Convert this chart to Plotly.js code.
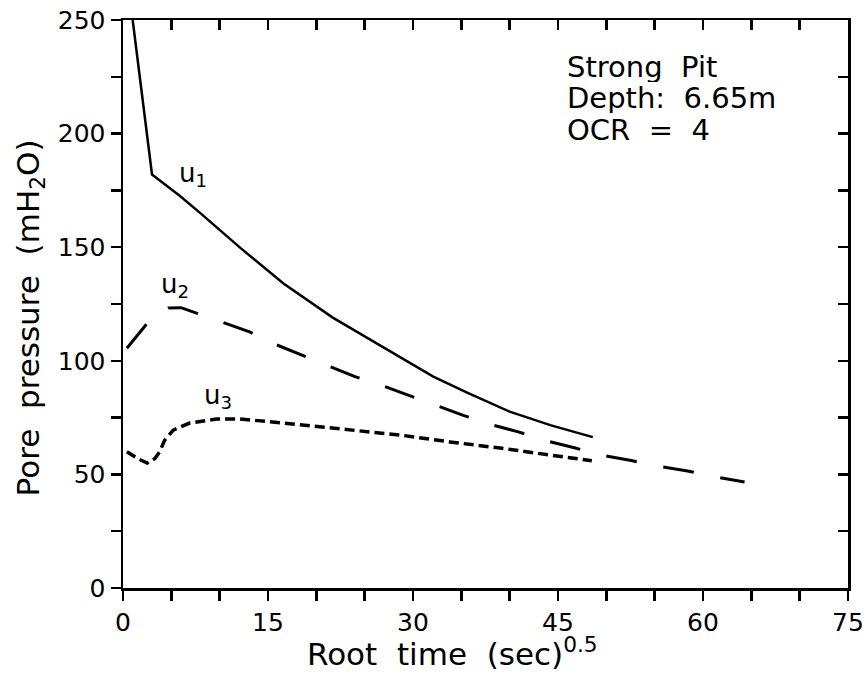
<!DOCTYPE html>
<html>
<head>
<meta charset="utf-8">
<script src="https://cdn.plot.ly/plotly-3.0.1.min.js"></script>
<style>
  html, body { margin: 0; padding: 0; background: #fff; }
  #chart { width: 868px; height: 680px; }
</style>
</head>
<body>
<div id="chart"></div>
<script>
// Piezocone dissipation record: pore pressures u1, u2, u3 against root time
const u1Time = [1.0, 3.0, 3.6, 5.9, 8.0, 12.2, 16.6, 21.7, 26.9, 28.7, 32.1, 35.6, 40.0, 44.2, 48.6];
const u1Pressure = [250, 182, 180, 172.5, 165, 149.5, 134, 119, 106, 101.6, 93, 86, 77.6, 71.7, 66.4];

const u2Time = [0.4, 2.5, 4.7, 6.0, 7.6, 10.3, 13.1, 15.9, 18.5, 21.2, 24.0, 26.6, 29.5, 32.3, 35.2, 38.0, 40.9, 43.9, 46.8, 49.5, 52.7, 55.3, 58.4, 61.3, 64.3];
const u2Pressure = [105.5, 116.5, 123.2, 123.4, 121, 117, 112.7, 107, 102.5, 98, 93, 89.4, 85, 80.5, 76, 72, 68.7, 64.7, 61.6, 58.5, 56, 53.7, 51.5, 48.9, 46.7];

const u3Time = [0.4, 1.5, 2.5, 3.3, 3.8, 4.3, 5.2, 6.9, 9.7, 12.1, 16.6, 21.7, 26.9, 28.7, 33.8, 39.0, 44.2, 48.5];
const u3Pressure = [60, 57, 55, 57, 60, 65, 69.5, 72.6, 74.4, 74.4, 72.6, 70.4, 68.2, 67.3, 64.3, 61.6, 58.5, 56];

const xTickValues = [0, 15, 30, 45, 60, 75];
const yTickValues = [0, 50, 100, 150, 200, 250];

const infoLines = ['Strong\u00a0\u00a0Pit', 'Depth:\u00a0\u00a06.65m', 'OCR\u00a0\u00a0=\u00a0\u00a04'];

const FONT = '"DejaVu Sans", Arial, sans-serif';
const INK = '#000';

const traces = [
  {
    x: u1Time, y: u1Pressure, name: 'u1', type: 'scatter', mode: 'lines',
    line: { color: INK, width: 2.5 }, hoverinfo: 'skip'
  },
  {
    x: u2Time, y: u2Pressure, name: 'u2', type: 'scatter', mode: 'lines',
    line: { color: INK, width: 3, dash: '31px,27px' }, hoverinfo: 'skip'
  },
  {
    x: u3Time, y: u3Pressure, name: 'u3', type: 'scatter', mode: 'lines',
    line: { color: INK, width: 3.5, dash: '10px,5px' }, hoverinfo: 'skip'
  },
  // carrier for the top/right frame axes (inward ticks)
  {
    x: u1Time, y: u1Pressure, xaxis: 'x2', yaxis: 'y2', type: 'scatter', mode: 'lines',
    line: { color: 'rgba(0,0,0,0)', width: 0 }, hoverinfo: 'skip', showlegend: false
  }
];

const baseAxis = {
  showgrid: false, zeroline: false, showline: true,
  linecolor: INK, linewidth: 2.5,
  tickcolor: INK, tickwidth: 2.5, ticklen: 10,
  tickfont: { family: FONT, size: 25, color: INK },
  fixedrange: true
};

const layout = {
  width: 868, height: 680,
  margin: { l: 123, r: 20, t: 20, b: 92 },
  paper_bgcolor: '#fff', plot_bgcolor: '#fff',
  showlegend: false,
  xaxis: Object.assign({}, baseAxis, {
    range: [0, 75], tickvals: xTickValues, ticks: 'outside',
    minor: { dtick: 5, ticks: 'outside', ticklen: 10, tickwidth: 2.5, tickcolor: INK }
  }),
  yaxis: Object.assign({}, baseAxis, {
    range: [0, 250], tickvals: yTickValues, ticks: 'outside',
    minor: { dtick: 25, ticks: 'outside', ticklen: 10, tickwidth: 2.5, tickcolor: INK }
  }),
  xaxis2: Object.assign({}, baseAxis, {
    overlaying: 'x', side: 'top', range: [0, 75], anchor: 'y2',
    dtick: 5, ticks: 'inside', showticklabels: false
  }),
  yaxis2: Object.assign({}, baseAxis, {
    overlaying: 'y', side: 'right', range: [0, 250], anchor: 'x2',
    dtick: 25, ticks: 'inside', showticklabels: false
  }),
  annotations: [
    {
      text: 'Root\u00a0\u00a0time\u00a0\u00a0(sec)<sup>0.5</sup>',
      xref: 'paper', yref: 'paper', x: 0.454, y: -0.113,
      xanchor: 'center', yanchor: 'middle', showarrow: false,
      font: { family: FONT, size: 31, color: INK }
    },
    {
      text: 'Pore\u00a0\u00a0pressure\u00a0\u00a0(mH<sub>2</sub>O)',
      xref: 'paper', yref: 'paper', x: -0.128, y: 0.475, textangle: -90,
      xanchor: 'center', yanchor: 'middle', showarrow: false,
      font: { family: FONT, size: 31, color: INK }
    },
    {
      text: 'u<sub>1</sub>', x: 5.6, y: 182, xanchor: 'left', yanchor: 'middle',
      showarrow: false, font: { family: FONT, size: 26, color: INK }
    },
    {
      text: 'u<sub>2</sub>', x: 3.7, y: 133, xanchor: 'left', yanchor: 'middle',
      showarrow: false, font: { family: FONT, size: 26, color: INK }
    },
    {
      text: 'u<sub>3</sub>', x: 8.2, y: 84.5, xanchor: 'left', yanchor: 'middle',
      showarrow: false, font: { family: FONT, size: 26, color: INK }
    }
  ]
};

const infoY = [0.919, 0.863, 0.808];
infoLines.forEach(function (line, i) {
  layout.annotations.push({
    text: line, xref: 'paper', yref: 'paper', x: 0.61, y: infoY[i],
    xanchor: 'left', yanchor: 'middle', showarrow: false, height: 31,
    font: { family: FONT, size: 29, color: INK }
  });
});

Plotly.newPlot('chart', traces, layout, { displayModeBar: false, staticPlot: true });
</script>
</body>
</html>
